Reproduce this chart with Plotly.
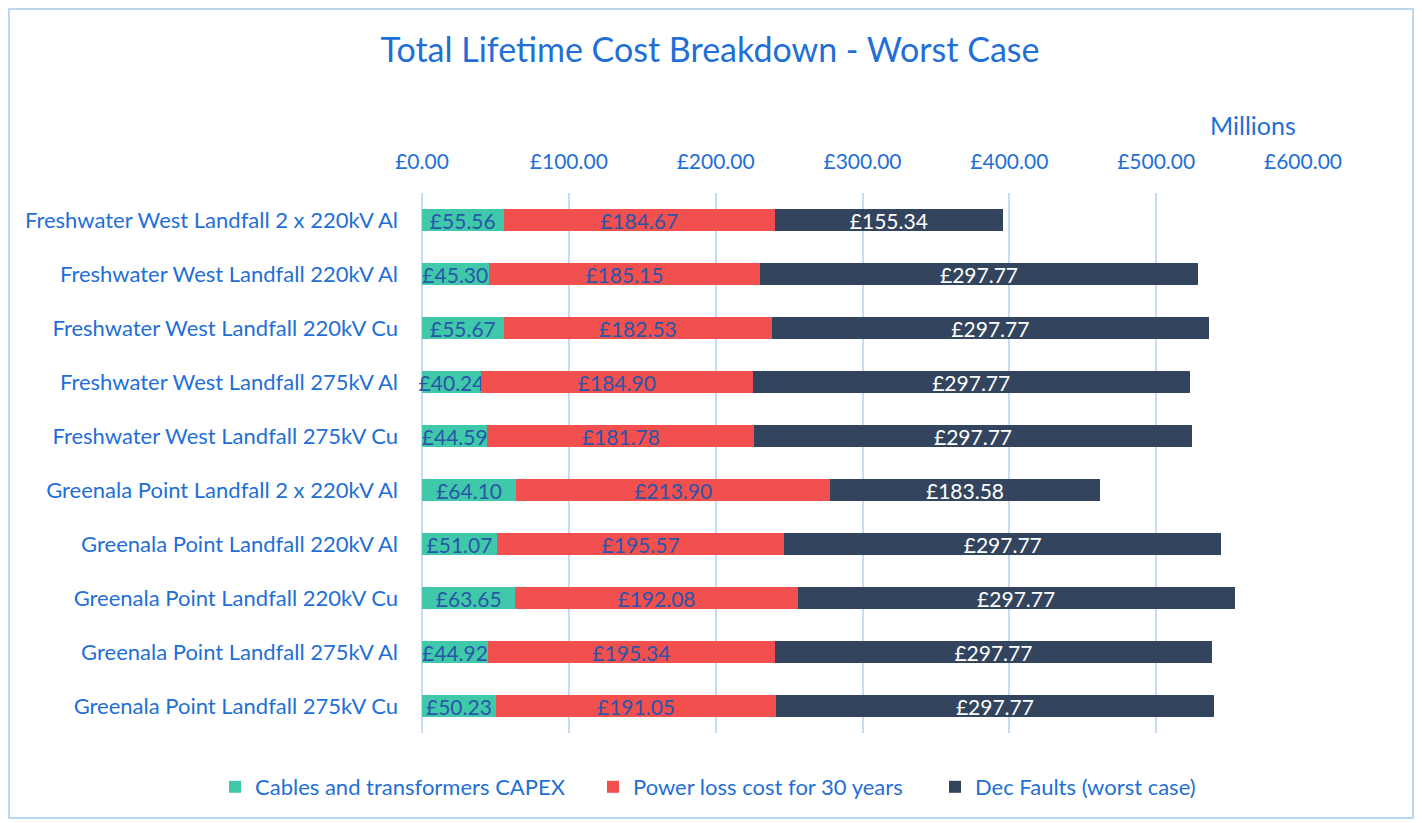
import plotly.graph_objects as go

categories = [
    "Freshwater West Landfall 2 x 220kV Al",
    "Freshwater West Landfall 220kV Al",
    "Freshwater West Landfall 220kV Cu",
    "Freshwater West Landfall 275kV Al",
    "Freshwater West Landfall 275kV Cu",
    "Greenala Point Landfall 2 x 220kV Al",
    "Greenala Point Landfall 220kV Al",
    "Greenala Point Landfall 220kV Cu",
    "Greenala Point Landfall 275kV Al",
    "Greenala Point Landfall 275kV Cu",
]
capex = [55.56, 45.30, 55.67, 40.24, 44.59, 64.10, 51.07, 63.65, 44.92, 50.23]
power_loss = [184.67, 185.15, 182.53, 184.90, 181.78, 213.90, 195.57, 192.08, 195.34, 191.05]
dec_faults = [155.34, 297.77, 297.77, 297.77, 297.77, 183.58, 297.77, 297.77, 297.77, 297.77]
series_names = ["Cables and transformers CAPEX", "Power loss cost for 30 years", "Dec Faults (worst case)"]
tick_vals = [0, 100, 200, 300, 400, 500, 600]
tick_text = ["£0.00", "£100.00", "£200.00", "£300.00", "£400.00", "£500.00", "£600.00"]

FONT = "Lato, 'Open Sans', sans-serif"
BLUE = "#1F6FD6"
LABEL_DARK = "#2A56A8"
colors = ["#3FC9AA", "#F24F4F", "#33445E"]
text_colors = [LABEL_DARK, LABEL_DARK, "white"]

# figure-pixel geometry (page adds ~8px body margin)
L, R, T, B = 414, 1295, 185, 725
W, H = 1422, 823
legend_left_px = [207, 585, 927]
legend_ids = ["legend", "legend2", "legend3"]


def px(fx):
    return (fx - L) / (R - L)


def py(fy):
    return (B - fy) / (B - T)


fig = go.Figure()
for name, vals, col, tc, lg in zip(series_names, [capex, power_loss, dec_faults], colors, text_colors, legend_ids):
    fig.add_trace(go.Bar(
        y=categories, x=vals, name=name, orientation="h",
        marker=dict(color=col, line=dict(width=0)),
        text=[f"£{v:.2f}" for v in vals],
        textposition="inside", insidetextanchor="middle",
        textangle=0, constraintext="none",
        textfont=dict(family=FONT, size=21, color=tc),
        cliponaxis=False, legend=lg,
    ))

fig.update_layout(
    barmode="stack",
    bargap=0.59,
    width=W, height=H,
    margin=dict(l=L, r=W - R, t=T, b=H - B, autoexpand=False),
    paper_bgcolor="white", plot_bgcolor="white",
    title=dict(text="Total Lifetime Cost Breakdown - Worst Case", x=702 / W, xanchor="center",
               xref="container", y=1 - 42 / H, yanchor="middle", yref="container",
               font=dict(family=FONT, size=34, color=BLUE)),
    xaxis=dict(side="top", range=[0, 600], tickvals=tick_vals, ticktext=tick_text,
               showgrid=True, gridcolor="#C5DCF3", gridwidth=1.5,
               zeroline=True, zerolinecolor="#C5DCF3", zerolinewidth=1.5,
               showline=False, ticks="", ticklabelstandoff=19, tickangle=0,
               automargin=False,
               tickfont=dict(family=FONT, size=21, color=BLUE)),
    yaxis=dict(autorange="reversed", ticks="", showgrid=False, ticklabelstandoff=23,
               automargin=False,
               tickfont=dict(family=FONT, size=22, color=BLUE)),
    showlegend=True,
)

for lg, lx in zip(legend_ids, legend_left_px):
    fig.update_layout({lg: dict(orientation="h", x=lx / W, xanchor="left", xref="container",
                                y=(H - 779) / H, yanchor="middle", yref="container",
                                bgcolor="rgba(0,0,0,0)",
                                font=dict(family=FONT, size=22, color=BLUE))})

fig.add_annotation(text="Millions", xref="paper", yref="paper", x=px(1245),
                   y=py(117), showarrow=False, xanchor="center", yanchor="middle",
                   font=dict(family=FONT, size=25, color=BLUE))

fig.add_shape(type="rect", xref="paper", yref="paper",
              x0=px(1), x1=px(1405), y0=py(810), y1=py(1),
              line=dict(color="#BDD7EE", width=2), fillcolor="rgba(0,0,0,0)", layer="below")

fig.write_html("out.html")
